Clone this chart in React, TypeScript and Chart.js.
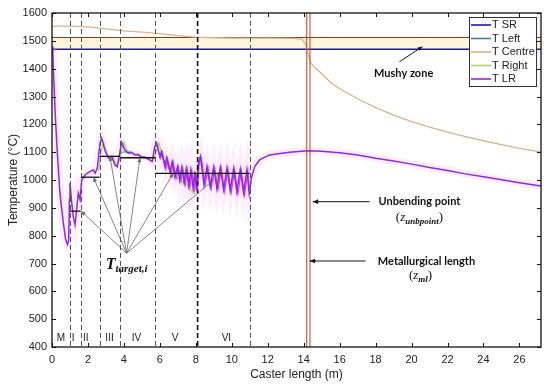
import React, { useEffect, useRef } from "react";
import { Chart, registerables } from "chart.js";

Chart.register(...registerables);

// ---------- data ----------
const xTicks = [0, 2, 4, 6, 8, 10, 12, 14, 16, 18, 20, 22, 24, 26];
const xMax = 27.2;
const yMin = 400;
const yMax = 1600;

const liquidusTemp = 1512;
const solidusTemp = 1470;

const centreX = [0, 1, 2, 3, 4, 5, 6, 7, 8, 9, 10, 12, 13.5, 13.9, 14.1, 14.2, 14.3, 14.4, 14.6, 15, 15.5, 16, 17, 18, 19, 20, 21, 22, 23, 24, 25, 26, 27, 27.2];
const centreT = [1553, 1553, 1550, 1543, 1536, 1531, 1526, 1519, 1513, 1511, 1510, 1510, 1509, 1505, 1490, 1466, 1440, 1420, 1405, 1382, 1350, 1328, 1292, 1260, 1233, 1210, 1190, 1172, 1156, 1141, 1127, 1114, 1103, 1100];

const lrX = [0, 0.05, 0.1, 0.17, 0.25, 0.32, 0.44, 0.55, 0.63, 0.76, 0.86, 0.93, 0.97, 1.0, 1.08, 1.18, 1.28, 1.37, 1.46, 1.56, 1.65, 1.83, 2.1, 2.3, 2.4, 2.52, 2.67, 2.76, 2.94, 3.13, 3.32, 3.5, 3.63, 3.78, 3.87, 4.06, 4.24, 4.4, 4.61, 4.8, 4.98, 5.15, 5.35, 5.57, 5.72, 5.82, 6.0, 6.09, 6.28, 6.37, 6.56, 6.69, 6.83, 6.98, 7.1, 7.22, 7.35, 7.47, 7.6, 7.72, 7.85, 7.95, 8.04, 8.15, 8.25, 8.45, 8.62, 8.8, 8.99, 9.17, 9.36, 9.54, 9.73, 9.91, 10.1, 10.28, 10.47, 10.65, 10.84, 10.97, 11.1, 11.28, 11.56, 12.1, 13.2, 14.24, 15, 16, 17, 18, 19, 20, 21, 22, 23, 24, 25, 26, 27, 27.2];
const lrT = [1480, 1445, 1360, 1250, 1150, 1072, 953, 890, 846, 785, 768, 785, 930, 989, 930, 869, 839, 893, 953, 929, 1000, 1018, 1030, 1036, 1025, 1043, 1133, 1150, 1108, 1079, 1085, 1054, 1048, 1102, 1135, 1108, 1097, 1100, 1090, 1092, 1082, 1083, 1075, 1066, 1120, 1133, 1084, 1102, 1048, 1079, 1030, 1066, 1012, 1048, 1000, 1045, 990, 1040, 980, 1035, 972, 1030, 965, 1060, 1085, 985, 1048, 975, 1046, 970, 1045, 966, 1043, 962, 1041, 958, 1038, 954, 1036, 950, 1010, 1049, 1073, 1090, 1100, 1105, 1103, 1098, 1090, 1078, 1068, 1057, 1045, 1034, 1022, 1012, 1001, 990, 980, 978];

const magX = [5.8, 6.05, 6.14, 6.33, 6.43, 6.62, 6.75, 6.9, 7.04, 7.17, 7.28, 7.42, 7.53, 7.67, 7.78, 7.92, 8.0, 8.08, 8.2, 8.31, 8.51, 8.68, 8.86, 9.05, 9.23, 9.42, 9.6, 9.79, 9.97, 10.16, 10.34, 10.53, 10.71, 10.9, 11.0];
const magT = [1128, 1078, 1098, 1040, 1076, 1022, 1062, 1005, 1046, 995, 1042, 985, 1038, 975, 1032, 965, 1020, 958, 1070, 1080, 980, 1044, 970, 1042, 965, 1040, 960, 1038, 956, 1036, 952, 1033, 948, 1030, 950];

const rightX = [2.6, 2.72, 2.88, 3.05, 3.2, 3.4, 3.6, 3.75, 3.9, 4.0, 4.15, 4.3, 4.6, 5.0, 5.35, 5.6, 5.8, 5.95, 6.1, 6.3, 6.5, 6.7, 6.9, 7.1, 7.3, 7.5, 7.7, 7.8, 7.95, 8.1, 8.2];
const rightT = [1030, 1100, 1135, 1095, 1078, 1080, 1052, 1070, 1110, 1135, 1110, 1100, 1092, 1084, 1077, 1068, 1100, 1132, 1095, 1060, 1040, 1030, 1010, 1005, 990, 985, 965, 955, 990, 1040, 1075];

const leftX = [3.85, 4.0, 4.2, 4.4];
const leftT = [1096, 1102, 1098, 1093];

const zoneBoundaries = [1.0, 1.6, 2.65, 3.8, 5.75, 11.0];
const sprayBoundary = 8.1;
const unbendingPoint = 14.17;
const metallurgicalLength = 14.35;

const zoneNames = ["M", "I", "II", "III", "IV", "V", "VI"];
const zoneLabelX = [0.5, 1.17, 1.88, 3.2, 4.7, 6.85, 9.7];
const zoneLabelT = 430;

const targetStart = [1.0, 1.6, 2.65, 3.8, 5.75, 8.1];
const targetEnd = [1.6, 2.65, 3.8, 5.75, 8.1, 11.0];
const targetTemp = [888, 1010, 1085, 1080, 1024, 1024];
const targetArrowX = [1.62, 2.3, 3.22, 4.89, 6.74, 9.43];
const targetLabelPos = [4.15, 737];

const legendLabels = ["T SR", "T Left", "T Centre", "T Right", "T LR"];
const legendColors = ["#1a1aa8", "#3f7fb8", "#d8b38c", "#a9d46f", "#8a2be2"];

const C_LR = "#8a2be2";
const C_MAG = "#e33ae3";

const pts = (xs: number[], ys: number[]) => xs.map((x, i) => ({ x, y: ys[i] }));

const SANS = '"Liberation Sans", Arial, sans-serif';
const BOLD = '"Lato", "Open Sans", sans-serif';
const SERIF = '"Liberation Serif", "DejaVu Serif", serif';

function drawParts(ctx: CanvasRenderingContext2D, cx: number, cy: number, parts: { t: string; f: string; dy?: number }[]) {
  let total = 0;
  const widths = parts.map((p) => {
    ctx.font = p.f;
    const w = ctx.measureText(p.t).width;
    total += w;
    return w;
  });
  let x = cx - total / 2;
  ctx.textAlign = "left";
  ctx.textBaseline = "alphabetic";
  parts.forEach((p, i) => {
    ctx.font = p.f;
    ctx.fillText(p.t, x, cy + (p.dy || 0));
    x += widths[i];
  });
}

function arrow(ctx: CanvasRenderingContext2D, x1: number, y1: number, x2: number, y2: number, color: string, lw: number, head: number) {
  ctx.strokeStyle = color;
  ctx.fillStyle = color;
  ctx.lineWidth = lw;
  ctx.setLineDash([]);
  ctx.beginPath();
  ctx.moveTo(x1, y1);
  ctx.lineTo(x2, y2);
  ctx.stroke();
  const ang = Math.atan2(y2 - y1, x2 - x1);
  ctx.beginPath();
  ctx.moveTo(x2, y2);
  ctx.lineTo(x2 - head * Math.cos(ang - 0.4), y2 - head * Math.sin(ang - 0.4));
  ctx.lineTo(x2 - head * Math.cos(ang + 0.4), y2 - head * Math.sin(ang + 0.4));
  ctx.closePath();
  ctx.fill();
}

const overlay = {
  id: "overlay",
  beforeDatasetsDraw(chart: any) {
    const { ctx, chartArea: a, scales } = chart;
    const y = scales.y;
    const yl = y.getPixelForValue(liquidusTemp);
    const ys = y.getPixelForValue(solidusTemp);
    ctx.save();
    ctx.fillStyle = "#fdf6da";
    ctx.fillRect(a.left, yl, a.right - a.left, ys - yl);
    ctx.lineWidth = 1.2;
    ctx.strokeStyle = "#8e3b22";
    ctx.beginPath();
    ctx.moveTo(a.left, yl);
    ctx.lineTo(a.right, yl);
    ctx.stroke();
    ctx.strokeStyle = "#1c1c8c";
    ctx.lineWidth = 1.4;
    ctx.beginPath();
    ctx.moveTo(a.left, ys);
    ctx.lineTo(a.right, ys);
    ctx.stroke();
    ctx.restore();
  },
  afterDatasetsDraw(chart: any) {
    const { ctx, chartArea: a, scales } = chart;
    const x = scales.x;
    const y = scales.y;
    ctx.save();
    // vertical zone lines
    ctx.strokeStyle = "#555";
    ctx.lineWidth = 1;
    ctx.setLineDash([5, 3]);
    zoneBoundaries.forEach((v) => {
      const px = Math.round(x.getPixelForValue(v)) + 0.5;
      ctx.beginPath();
      ctx.moveTo(px, a.top);
      ctx.lineTo(px, a.bottom);
      ctx.stroke();
    });
    ctx.strokeStyle = "#111";
    ctx.lineWidth = 1.6;
    ctx.setLineDash([5, 3]);
    {
      const px = x.getPixelForValue(sprayBoundary);
      ctx.beginPath();
      ctx.moveTo(px, a.top);
      ctx.lineTo(px, a.bottom);
      ctx.stroke();
    }
    ctx.setLineDash([]);
    ctx.strokeStyle = "#b8452e";
    ctx.lineWidth = 1;
    [unbendingPoint, metallurgicalLength].forEach((v) => {
      const px = x.getPixelForValue(v);
      ctx.beginPath();
      ctx.moveTo(px, a.top);
      ctx.lineTo(px, a.bottom);
      ctx.stroke();
    });

    // target lines
    ctx.strokeStyle = "#111";
    ctx.lineWidth = 1.3;
    targetStart.forEach((s, i) => {
      const py = y.getPixelForValue(targetTemp[i]);
      ctx.beginPath();
      ctx.moveTo(x.getPixelForValue(s), py);
      ctx.lineTo(x.getPixelForValue(targetEnd[i]), py);
      ctx.stroke();
    });
    // arrows to targets
    const ox = x.getPixelForValue(targetLabelPos[0]);
    const oy = y.getPixelForValue(targetLabelPos[1]);
    targetArrowX.forEach((tx, i) => {
      arrow(ctx, ox, oy, x.getPixelForValue(tx), y.getPixelForValue(targetTemp[i]), "#666", 0.8, 5);
    });
    ctx.fillStyle = "#111";
    drawParts(ctx, ox, oy + 16, [
      { t: "T", f: `bold italic 16px ${SERIF}` },
      { t: "target,i", f: `bold italic 11px ${SERIF}`, dy: 3 },
    ]);

    // zone labels
    ctx.fillStyle = "#222";
    ctx.font = `10px ${SANS}`;
    ctx.textAlign = "center";
    ctx.textBaseline = "middle";
    zoneNames.forEach((n, i) => {
      ctx.fillText(n, x.getPixelForValue(zoneLabelX[i]), y.getPixelForValue(zoneLabelT));
    });

    // annotations
    ctx.fillStyle = "#111";
    ctx.font = `bold 11px ${BOLD}`;
    ctx.textAlign = "center";
    ctx.textBaseline = "middle";
    ctx.fillText("Mushy zone", x.getPixelForValue(19.56), y.getPixelForValue(1382));
    arrow(ctx, x.getPixelForValue(19.33), y.getPixelForValue(1425), x.getPixelForValue(20.6), y.getPixelForValue(1479), "#111", 1, 5);

    ctx.font = `bold 11px ${BOLD}`;
    ctx.textAlign = "center";
    ctx.textBaseline = "middle";
    ctx.fillText("Unbending point", x.getPixelForValue(20.44), y.getPixelForValue(922));
    ctx.fillStyle = "#111";
    drawParts(ctx, x.getPixelForValue(20.44), y.getPixelForValue(868) + 4, [
      { t: "(", f: `13px ${SERIF}` },
      { t: "z", f: `italic 13px ${SERIF}` },
      { t: "unbpoint", f: `bold italic 9px ${SERIF}`, dy: 3 },
      { t: ")", f: `13px ${SERIF}` },
    ]);
    arrow(ctx, x.getPixelForValue(17.67), y.getPixelForValue(922), x.getPixelForValue(14.5), y.getPixelForValue(922), "#111", 1, 6);

    ctx.font = `bold 11px ${BOLD}`;
    ctx.textAlign = "center";
    ctx.textBaseline = "middle";
    ctx.fillText("Metallurgical length", x.getPixelForValue(20.83), y.getPixelForValue(709));
    drawParts(ctx, x.getPixelForValue(20.5), y.getPixelForValue(659) + 4, [
      { t: "(", f: `13px ${SERIF}` },
      { t: "z", f: `italic 13px ${SERIF}` },
      { t: "ml", f: `bold italic 9px ${SERIF}`, dy: 3 },
      { t: ")", f: `13px ${SERIF}` },
    ]);
    arrow(ctx, x.getPixelForValue(17.44), y.getPixelForValue(709), x.getPixelForValue(14.33), y.getPixelForValue(709), "#111", 1, 6);

    // axis box + inward ticks
    ctx.strokeStyle = "#111";
    ctx.lineWidth = 1.3;
    ctx.strokeRect(a.left, a.top, a.right - a.left, a.bottom - a.top);
    ctx.lineWidth = 1;
    const tl = 4;
    xTicks.forEach((v) => {
      const px = Math.round(x.getPixelForValue(v)) + 0.5;
      ctx.beginPath();
      ctx.moveTo(px, a.bottom);
      ctx.lineTo(px, a.bottom - tl);
      ctx.moveTo(px, a.top);
      ctx.lineTo(px, a.top + tl);
      ctx.stroke();
    });
    for (let v = yMin; v <= yMax; v += 100) {
      const py = Math.round(y.getPixelForValue(v)) + 0.5;
      ctx.beginPath();
      ctx.moveTo(a.left, py);
      ctx.lineTo(a.left + tl, py);
      ctx.moveTo(a.right, py);
      ctx.lineTo(a.right - tl, py);
      ctx.stroke();
    }

    // axis titles
    ctx.fillStyle = "#222";
    ctx.font = `12px ${SANS}`;
    ctx.textAlign = "center";
    ctx.textBaseline = "middle";
    ctx.fillText("Caster length (m)", (a.left + a.right) / 2 + 0, 375);
    ctx.save();
    ctx.translate(14, (a.top + a.bottom) / 2);
    ctx.rotate(-Math.PI / 2);
    ctx.fillText("Temperature (°C)", 0, 0);
    ctx.restore();

    // legend
    const bw = 67;
    const bh = 69;
    const bx = a.right - 5 - bw;
    const by = a.top + 4;
    ctx.fillStyle = "#fff";
    ctx.fillRect(bx, by, bw, bh);
    ctx.strokeStyle = "#333";
    ctx.lineWidth = 1;
    ctx.strokeRect(bx + 0.5, by + 0.5, bw, bh);
    ctx.font = `11px ${SANS}`;
    ctx.textAlign = "left";
    ctx.textBaseline = "middle";
    legendLabels.forEach((l, i) => {
      const ry = by + 8 + i * 13.5;
      ctx.strokeStyle = legendColors[i];
      ctx.lineWidth = 1.6;
      ctx.beginPath();
      ctx.moveTo(bx + 2, ry);
      ctx.lineTo(bx + 22, ry);
      ctx.stroke();
      ctx.fillStyle = "#222";
      ctx.fillText(l, bx + 23, ry);
    });
    ctx.restore();
  },
};

export default function App() {
  const ref = useRef<HTMLCanvasElement | null>(null);
  useEffect(() => {
    if (!ref.current) return;
    const chart = new Chart(ref.current, {
      type: "line",
      data: {
        datasets: [
          { label: "T LR", data: pts(lrX, lrT), borderColor: C_LR, borderWidth: 1.5, pointRadius: 0, order: 1 },
          { label: "T Left", data: pts(magX, magT), borderColor: C_MAG, borderWidth: 1.3, pointRadius: 0, order: 2 },
          { label: "T Right", data: pts(rightX, rightT), borderColor: "#a9d46f", borderWidth: 1.3, pointRadius: 0, order: 3 },
          { label: "T SR", data: pts(leftX, leftT), borderColor: "#3fb0c0", borderWidth: 1.2, pointRadius: 0, order: 4 },
          { label: "T Centre", data: pts(centreX, centreT), borderColor: "#d8b38c", borderWidth: 1.3, pointRadius: 0, order: 6 },
          { label: "halo", data: pts(lrX, lrT), borderColor: "rgba(255,175,240,0.22)", borderWidth: 8, pointRadius: 0, order: 9 },
        ],
      },
      options: {
        animation: false,
        responsive: false,
        devicePixelRatio: 1,
        layout: { padding: { left: 0, top: 13, right: 9, bottom: 0 } },
        plugins: { legend: { display: false }, tooltip: { enabled: false } },
        elements: { line: { tension: 0 } },
        scales: {
          x: {
            type: "linear",
            min: 0,
            max: xMax,
            afterBuildTicks: (s: any) => {
              s.ticks = xTicks.map((v) => ({ value: v }));
            },
            afterFit: (s: any) => {
              s.height = 42;
            },
            grid: { display: false, drawTicks: false },
            border: { display: false },
            ticks: { padding: 6, maxRotation: 0, autoSkip: false, color: "#222", font: { family: SANS, size: 11 }, callback: (v: any) => String(v) },
          },
          y: {
            min: yMin,
            max: yMax,
            afterFit: (s: any) => {
              s.width = 52;
            },
            grid: { display: false, drawTicks: false },
            border: { display: false },
            ticks: { stepSize: 100, padding: 5, color: "#222", font: { family: SANS, size: 11 }, callback: (v: any) => String(v) },
          },
        },
      },
      plugins: [overlay],
    });
    return () => chart.destroy();
  }, []);
  return (
    <div style={{ position: "fixed", left: 0, top: 0, width: 550, height: 389, background: "#fff" }}>
      <canvas ref={ref} width={550} height={389} />
    </div>
  );
}
